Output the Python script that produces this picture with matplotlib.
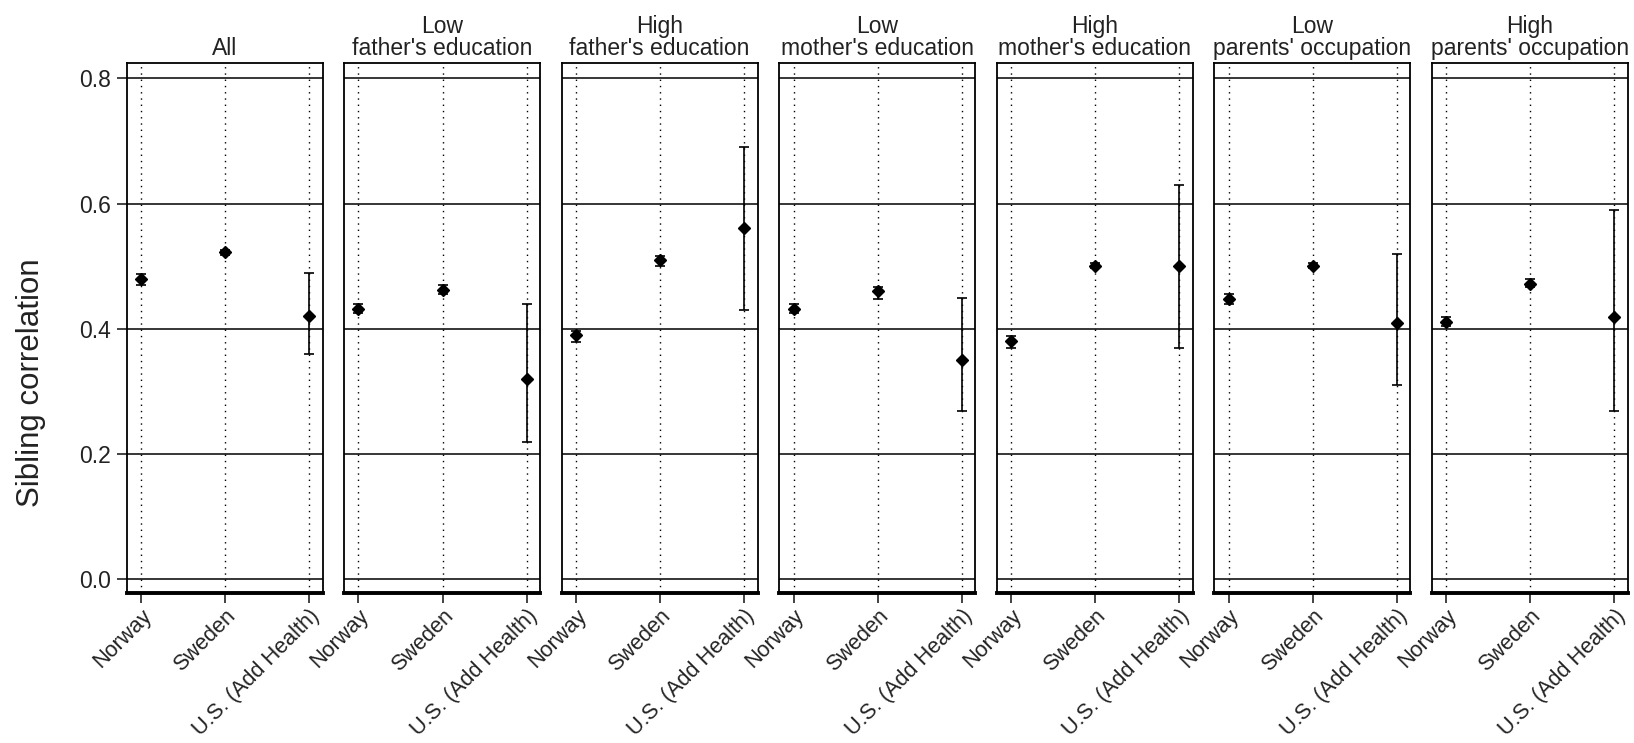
import matplotlib
matplotlib.use("Agg")
import matplotlib.pyplot as plt
import numpy as np

plt.rcParams['font.family'] = ['Liberation Sans', 'DejaVu Sans']

countries = ["Norway", "Sweden", "U.S. (Add Health)"]
panels = ["All", "Low\nfather's education", "High\nfather's education",
          "Low\nmother's education", "High\nmother's education",
          "Low\nparents' occupation", "High\nparents' occupation"]

est_all = [0.480, 0.522, 0.420]
lo_all = [0.470, 0.518, 0.360]
hi_all = [0.488, 0.526, 0.490]

est_lowfa = [0.432, 0.462, 0.320]
lo_lowfa = [0.425, 0.455, 0.220]
hi_lowfa = [0.440, 0.470, 0.440]

est_highfa = [0.390, 0.510, 0.561]
lo_highfa = [0.379, 0.500, 0.430]
hi_highfa = [0.397, 0.517, 0.690]

est_lowmo = [0.432, 0.461, 0.350]
lo_lowmo = [0.425, 0.448, 0.268]
hi_lowmo = [0.440, 0.467, 0.449]

est_highmo = [0.381, 0.501, 0.500]
lo_highmo = [0.370, 0.497, 0.370]
hi_highmo = [0.389, 0.505, 0.630]

est_lowocc = [0.448, 0.501, 0.410]
lo_lowocc = [0.440, 0.497, 0.310]
hi_lowocc = [0.455, 0.505, 0.520]

est_highocc = [0.411, 0.472, 0.419]
lo_highocc = [0.405, 0.467, 0.268]
hi_highocc = [0.419, 0.479, 0.590]

estimates = [est_all, est_lowfa, est_highfa, est_lowmo, est_highmo, est_lowocc, est_highocc]
lowers = [lo_all, lo_lowfa, lo_highfa, lo_lowmo, lo_highmo, lo_lowocc, lo_highocc]
uppers = [hi_all, hi_lowfa, hi_highfa, hi_lowmo, hi_highmo, hi_lowocc, hi_highocc]

yticks = [0.0, 0.2, 0.4, 0.6, 0.8]
ytick_labels = ["0.0", "0.2", "0.4", "0.6", "0.8"]

fig, axes = plt.subplots(1, 7, figsize=(16.34, 7.43), dpi=100, sharey=True)
fig.subplots_adjust(left=0.0775, right=0.9962, bottom=0.2015, top=0.915, wspace=0.11)

FS = 16.5
XFS = 15.6
x = np.arange(1, len(countries) + 1)
for i, ax in enumerate(axes):
    est = np.array(estimates[i])
    lo = np.array(lowers[i])
    hi = np.array(uppers[i])
    for yv in yticks:
        ax.axhline(yv, color='black', lw=1.1, zorder=1)
    for xv in x:
        ax.axvline(xv, color='black', lw=1.0, ls=(0, (1, 3.5)), zorder=1)
    ax.errorbar(x, est, yerr=[est - lo, hi - est], fmt='D', color='black',
                ms=6.5, elinewidth=1.2, capsize=3.8, capthick=1.2, zorder=3)
    ax.set_xlim(0.83, 3.16)
    ax.set_ylim(-0.0224, 0.8244)
    ax.set_xticks(x)
    ax.set_xticklabels(countries, rotation=45, ha='right', rotation_mode='anchor',
                       fontsize=XFS, color='#222222')
    ax.tick_params(axis='x', length=7, width=1.2, pad=1.5, color='#222222')
    ax.set_title(panels[i], fontsize=FS, linespacing=0.95, pad=6, color='#222222')
    for s in ['top', 'left', 'right']:
        ax.spines[s].set_linewidth(1.3)
        ax.spines[s].set_color('black')
    ax.spines['bottom'].set_linewidth(2.8)
    ax.spines['bottom'].set_color('black')
    if i == 0:
        ax.set_yticks(yticks)
        ax.set_yticklabels(ytick_labels, fontsize=FS, color='#222222')
        ax.tick_params(axis='y', length=7, width=1.2, pad=4, color='#222222')
    else:
        ax.tick_params(axis='y', left=False, labelleft=False)

fig.text(31 / 1634, 0.485, "Sibling correlation", rotation=90, va='center', ha='center',
         fontsize=22.5, color='#222222')

fig.savefig("out.png", dpi=100)
